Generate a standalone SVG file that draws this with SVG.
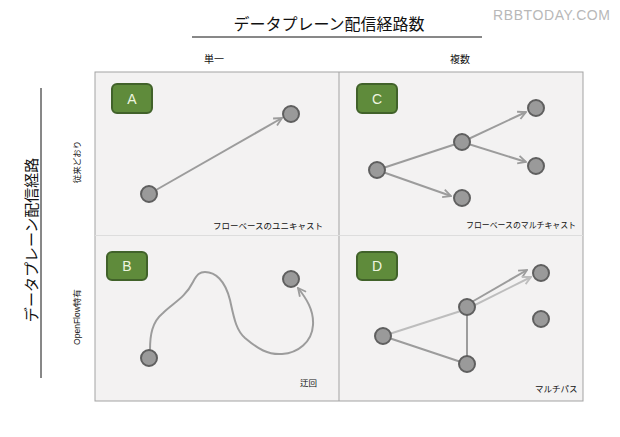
<svg xmlns="http://www.w3.org/2000/svg" width="620" height="437" viewBox="0 0 620 437">
<style>
.jp{font-family:"Liberation Sans","Noto Sans CJK JP",sans-serif;fill:#111}
.lbl{font-size:8.5px}
.box rect{fill:#5f8b3b;stroke:#41622a;stroke-width:2}
.box text{font-family:"Liberation Sans",sans-serif;font-size:14px;fill:#eef5e0;text-anchor:middle}
.n{fill:#9a9a9a;stroke:#5f5f5f;stroke-width:2}
.e{fill:none;stroke:#9c9c9c;stroke-width:2}
.el{fill:none;stroke:#bdbdbd;stroke-width:2}
</style>
<defs>
<marker id="ah" viewBox="0 0 10 10" refX="9" refY="5" markerWidth="10" markerHeight="10" markerUnits="userSpaceOnUse" orient="auto">
<path d="M1,1 L9,5 L1,9" fill="none" stroke="#9c9c9c" stroke-width="1.8"/>
</marker>
<marker id="ahl" viewBox="0 0 10 10" refX="9" refY="5" markerWidth="10" markerHeight="10" markerUnits="userSpaceOnUse" orient="auto">
<path d="M1,1 L9,5 L1,9" fill="none" stroke="#bdbdbd" stroke-width="1.8"/>
</marker>
</defs>
<rect width="620" height="437" fill="#ffffff"/>
<text x="493" y="20" font-family="Liberation Sans,sans-serif" font-size="14" fill="#b8b8b8" textLength="117">RBBTODAY.COM</text>
<g id="title">
<text class="jp" x="329" y="30" font-size="16" text-anchor="middle">データプレーン配信経路数</text>
<line x1="192" y1="37" x2="482" y2="37" stroke="#111" stroke-width="1"/>
<text class="jp" x="214" y="63" font-size="10" text-anchor="middle">単一</text>
<text class="jp" x="460" y="63" font-size="10" text-anchor="middle">複数</text>
</g>
<g id="side">
<text class="jp" transform="translate(37,240) rotate(-90)" font-size="15" text-anchor="middle">データプレーン配信経路</text>
<line x1="41" y1="88" x2="41" y2="378" stroke="#111" stroke-width="1"/>
<text class="jp" transform="translate(80,162) rotate(-90)" font-size="8.5" text-anchor="middle">従来どおり</text>
<text class="jp" transform="translate(80,317) rotate(-90)" font-size="8.5" text-anchor="middle">OpenFlow特有</text>
</g>
<g id="frame">
<rect x="95" y="72" width="488" height="329" fill="#f3f2f2" stroke="#a3a3a3" stroke-width="1"/>
<line x1="339" y1="72" x2="339" y2="401" stroke="#a3a3a3" stroke-width="1"/>
<line x1="95" y1="235.5" x2="583" y2="235.5" stroke="#dddddd" stroke-width="1"/>
</g>
<g id="connectors">
<line class="e" x1="149" y1="194" x2="282" y2="118" marker-end="url(#ah)"/>
<line class="e" x1="377" y1="170" x2="462" y2="142"/>
<line class="e" x1="462" y1="142" x2="526" y2="112" marker-end="url(#ah)"/>
<line class="e" x1="462" y1="142" x2="526" y2="162" marker-end="url(#ah)"/>
<line class="e" x1="377" y1="170" x2="451" y2="196" marker-end="url(#ah)"/>
<path class="e" d="M150,350 C150,335 152,322 163,313 C173,303 185,298 193,282 C197,274 200,272 205,272 C215,272 225,280 230,300 C234,318 236,330 245,338 C258,349 268,355 282,354 C298,353 312,342 313,325 C314,310 306,298 298,288" marker-end="url(#ah)"/>
<line class="e" x1="383" y1="336" x2="467" y2="364"/>
<line class="e" x1="467" y1="307" x2="467" y2="364"/>
<line class="e" x1="470" y1="303" x2="527" y2="270" marker-end="url(#ah)"/>
<line class="el" x1="383" y1="336" x2="467" y2="309"/>
<line class="el" x1="467" y1="309" x2="531" y2="277" marker-end="url(#ahl)"/>
</g>
<g id="A">
<g class="box"><rect x="112" y="84" width="40" height="29" rx="5"/><text x="132" y="104">A</text></g>
<circle class="n" cx="149" cy="194" r="8"/>
<circle class="n" cx="291" cy="114" r="8"/>
<text class="jp lbl" x="213" y="229" textLength="110" lengthAdjust="spacingAndGlyphs">フローベースのユニキャスト</text>
</g>
<g id="C">
<g class="box"><rect x="357" y="84" width="40" height="29" rx="5"/><text x="377" y="104">C</text></g>
<circle class="n" cx="377" cy="170" r="8"/>
<circle class="n" cx="462" cy="142" r="8"/>
<circle class="n" cx="536" cy="108" r="8"/>
<circle class="n" cx="536" cy="166" r="8"/>
<circle class="n" cx="462" cy="198" r="8"/>
<text class="jp lbl" x="466" y="228" textLength="110" lengthAdjust="spacingAndGlyphs">フローベースのマルチキャスト</text>
</g>
<g id="B">
<g class="box"><rect x="107" y="252" width="40" height="28" rx="5"/><text x="127" y="271">B</text></g>
<circle class="n" cx="149" cy="358" r="8"/>
<circle class="n" cx="291" cy="279" r="8"/>
<text class="jp lbl" x="300" y="386">迂回</text>
</g>
<g id="D">
<g class="box"><rect x="357" y="252" width="40" height="28" rx="5"/><text x="377" y="271">D</text></g>
<circle class="n" cx="383" cy="336" r="8"/>
<circle class="n" cx="467" cy="307" r="8"/>
<circle class="n" cx="467" cy="364" r="8"/>
<circle class="n" cx="541" cy="273" r="8"/>
<circle class="n" cx="541" cy="319" r="8"/>
<text class="jp lbl" x="535" y="392">マルチパス</text>
</g>
</svg>
